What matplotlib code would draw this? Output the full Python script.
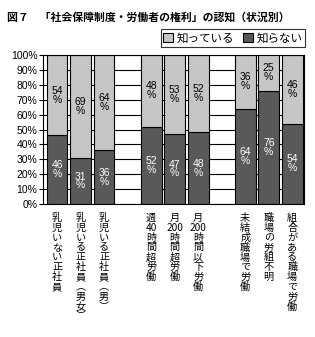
import matplotlib.pyplot as plt
from matplotlib.patches import Patch

jp = ['Noto Sans CJK JP', 'DejaVu Sans']
num = ['Liberation Sans', 'DejaVu Sans']

# data
categories = ['乳\n児\nい\nな\nい\n正\n社\n員',
              '乳\n児\nい\nる\n正\n社\n員\n︵\n男\n女\n︶',
              '乳\n児\nい\nる\n正\n社\n員\n︵\n男\n︶',
              '週\n40\n時\n間\n超\n労\n働',
              '月\n200\n時\n間\n超\n労\n働',
              '月\n200\n時\n間\n以\n下\n労\n働',
              '未\n結\n成\n職\n場\nで\n労\n働',
              '職\n場\nの\n労\n組\n不\n明',
              '組\n合\nが\nあ\nる\n職\n場\nで\n労\n働']
positions = [0, 1, 2, 4, 5, 6, 8, 9, 10]
shiranai = [46, 31, 36, 52, 47, 48, 64, 76, 54]
shitteiru = [54, 69, 64, 48, 53, 52, 36, 25, 46]
yticks = list(range(0, 101, 10))

dark = '#595959'
light = '#c6c6c6'

fig = plt.figure(figsize=(3.15, 3.37), dpi=100)
ax = fig.add_axes([43 / 315, 1 - 204 / 337, 261 / 315, 149 / 337])

ax.set_axisbelow(True)
ax.yaxis.grid(True, color='black', linewidth=0.8)
w = 0.88
ax.bar(positions, shiranai, width=w, color=dark, edgecolor='black', linewidth=0.8)
ax.bar(positions, shitteiru, width=w, bottom=shiranai, color=light,
       edgecolor='black', linewidth=0.8)

for x, d, l in zip(positions, shiranai, shitteiru):
    ax.text(x, d / 2, f'{d}\n%', ha='center', va='center', color='white',
            fontsize=7.5, family=num, linespacing=0.85)
    ax.text(x, d + l / 2, f'{l}\n%', ha='center', va='center', color='black',
            fontsize=7.5, family=num, linespacing=0.85)

ax.set_xlim(-0.6, 10.5)
ax.set_ylim(0, 100)
ax.set_yticks(yticks)
ax.set_yticklabels([f'{t}%' for t in yticks], family=num, fontsize=7.5)
ax.set_xticks([])
ax.tick_params(axis='y', length=3, width=0.8, pad=1)
for s in ax.spines.values():
    s.set_linewidth(0.8)

for x, c in zip(positions, categories):
    ax.text(x, -6, c, ha='center', va='top', fontsize=7.3, family=jp,
            linespacing=0.98)

fig.text(7 / 315, 1 - 17 / 337, '図７　「社会保障制度・労働者の権利」の認知（状況別）',
         fontsize=7.8, fontweight='bold', family=jp, va='center')

handles = [Patch(facecolor=light, edgecolor='black', linewidth=0.8),
           Patch(facecolor=dark, edgecolor='black', linewidth=0.8)]
leg = fig.legend(handles, ['知っている', '知らない'], ncol=2,
                 loc='center right', bbox_to_anchor=(305 / 315, 1 - 38 / 337),
                 prop={'family': jp, 'size': 8.3}, frameon=True, fancybox=False,
                 handlelength=0.85, handleheight=0.85, handletextpad=0.3,
                 columnspacing=0.8, borderpad=0.2, borderaxespad=0)
leg.get_frame().set_edgecolor('black')
leg.get_frame().set_linewidth(0.8)

fig.savefig('out.png', dpi=100)
